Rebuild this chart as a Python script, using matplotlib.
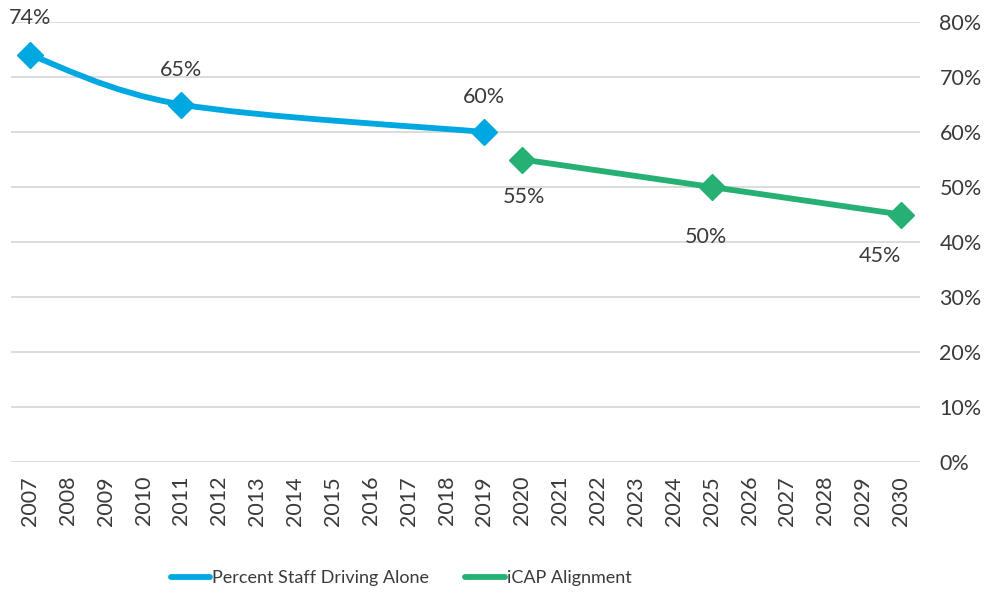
import matplotlib
matplotlib.use("Agg")
import matplotlib.pyplot as plt
from matplotlib.path import Path
from matplotlib.patches import PathPatch
from matplotlib.lines import Line2D
from matplotlib.ticker import PercentFormatter

# ---- data ----
years = ["2007", "2008", "2009", "2010", "2011", "2012", "2013", "2014", "2015",
         "2016", "2017", "2018", "2019", "2020", "2021", "2022", "2023", "2024",
         "2025", "2026", "2027", "2028", "2029", "2030"]
drive_years = ["2007", "2011", "2019"]
drive_vals = [74, 65, 60]
icap_years = ["2020", "2025", "2030"]
icap_vals = [55, 50, 45]
yticks = [0, 10, 20, 30, 40, 50, 60, 70, 80]

# label offsets (points) as placed in the original
drive_offsets = [(0, 27), (0, 25), (0, 25)]
icap_offsets = [(1, -27), (-4, -36), (-15, -30)]

blue = "#00A8E1"
green = "#27B074"
txt = "#3A3A3A"

plt.rcParams["font.family"] = ["Lato", "DejaVu Sans"]
FS = 15.5

fig = plt.figure(figsize=(9.87, 5.93), dpi=100)
ax = fig.add_axes([11 / 987, 1 - 462 / 593, (920 - 11) / 987, (462 - 22) / 593])

pos = {y: i for i, y in enumerate(years)}
dx = [pos[y] for y in drive_years]
ix = [pos[y] for y in icap_years]

# smoothed line (Excel-like) for the driving-alone series
pts = list(zip(dx, drive_vals))
verts = [pts[0]]
codes = [Path.MOVETO]
n = len(pts)
for i in range(n - 1):
    p0 = pts[i - 1] if i > 0 else pts[i]
    p1 = pts[i]
    p2 = pts[i + 1]
    p3 = pts[i + 2] if i + 2 < n else pts[i + 1]
    c1 = (p1[0] + (p2[0] - p0[0]) / 6, p1[1] + (p2[1] - p0[1]) / 6)
    c2 = (p2[0] - (p3[0] - p1[0]) / 6, p2[1] - (p3[1] - p1[1]) / 6)
    verts += [c1, c2, p2]
    codes += [Path.CURVE4] * 3
LW = 4.2
MS = 13.5
ax.add_patch(PathPatch(Path(verts, codes), facecolor="none", edgecolor=blue,
                       lw=LW, capstyle="round", joinstyle="round", zorder=3))
ax.plot(dx, drive_vals, linestyle="none", marker="D", markersize=MS,
        color=blue, zorder=4)

ax.plot(ix, icap_vals, color=green, lw=LW, marker="D", markersize=MS,
        solid_capstyle="round", zorder=4)

for x, v, off in zip(dx, drive_vals, drive_offsets):
    ax.annotate(f"{v}%", (x, v), xytext=off, textcoords="offset points",
                ha="center", va="center", fontsize=FS, color=txt)
for x, v, off in zip(ix, icap_vals, icap_offsets):
    ax.annotate(f"{v}%", (x, v), xytext=off, textcoords="offset points",
                ha="center", va="center", fontsize=FS, color=txt)

ax.set_xlim(-0.5, len(years) - 0.5)
ax.set_ylim(0, 80)
ax.set_xticks(range(len(years)))
ax.set_xticklabels(years, rotation=90, fontsize=FS, color=txt)
ax.yaxis.tick_right()
ax.set_yticks(yticks)
ax.yaxis.set_major_formatter(PercentFormatter(decimals=0))
ax.tick_params(axis="y", length=0, pad=14, labelsize=FS, labelcolor=txt)
ax.tick_params(axis="x", length=0, pad=10)
for lbl in ax.get_yticklabels():
    lbl.set_horizontalalignment("left")
ax.grid(axis="y", color="#D9D9D9", lw=1.3)
ax.set_axisbelow(True)
for s in ax.spines.values():
    s.set_visible(False)

handles = [Line2D([], [], color=blue, lw=LW, solid_capstyle="round"),
           Line2D([], [], color=green, lw=LW, solid_capstyle="round")]
fig.legend(handles, ["Percent Staff Driving Alone", "iCAP Alignment"],
           loc="center", bbox_to_anchor=(401 / 987, 1 - 578 / 593), ncol=2,
           frameon=False, fontsize=13, handlelength=2.2, handletextpad=0.1,
           columnspacing=2.0, labelcolor=txt)

fig.savefig("out.png", dpi=100)
